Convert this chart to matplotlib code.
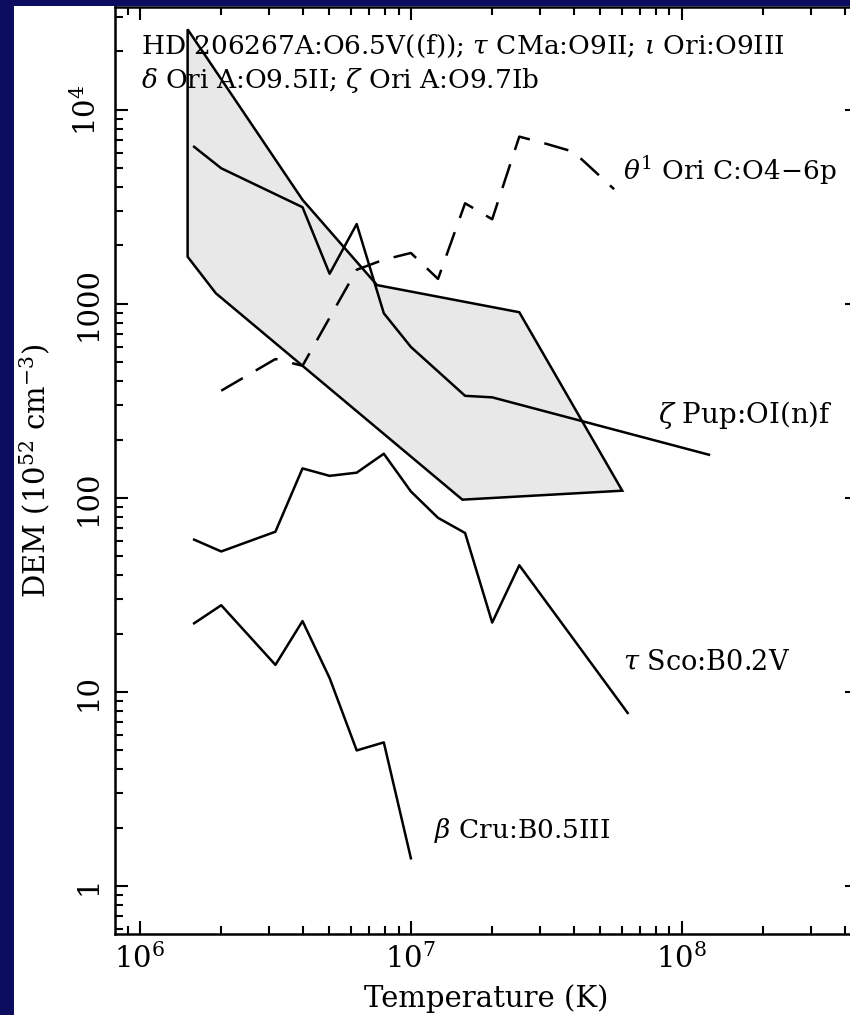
import numpy as np
from matplotlib import pyplot as plt
from matplotlib.patches import Rectangle
from matplotlib.ticker import LogLocator, NullFormatter, FixedLocator

plt.rcParams['font.family'] = 'DejaVu Serif'
plt.rcParams['mathtext.fontset'] = 'dejavuserif'
plt.rcParams['font.size'] = 19
plt.rcParams['xtick.direction'] = 'in'
plt.rcParams['ytick.direction'] = 'in'
plt.rcParams['axes.linewidth'] = 1.8

# log10 T and DEM (10^52 cm^-3)
logT_zpup = [6.2, 6.3, 6.6, 6.7, 6.8, 6.9, 7.0, 7.2, 7.3, 8.1]
dem_zpup = [6450, 5000, 3150, 1430, 2580, 895, 600, 336, 330, 167]

logT_tsco = [6.2, 6.3, 6.5, 6.6, 6.7, 6.8, 6.9, 7.0, 7.1, 7.2, 7.3, 7.4, 7.8]
dem_tsco = [61, 53, 67, 142, 130, 135, 169, 108, 79, 66, 22.8, 45, 7.8]

logT_bcru = [6.2, 6.3, 6.5, 6.6, 6.7, 6.8, 6.9, 7.0]
dem_bcru = [22.6, 28, 13.8, 23.2, 11.8, 5.0, 5.5, 1.39]

logT_th1 = [6.3, 6.5, 6.6, 6.8, 6.9, 7.0, 7.1, 7.2, 7.3, 7.4, 7.5, 7.6, 7.75]
dem_th1 = [357, 520, 480, 1500, 1690, 1830, 1345, 3300, 2730, 7280, 6680, 6080, 3900]

# envelope of the O9 stars (grey band)
logT_band = [6.176, 6.6, 6.875, 7.4, 7.78, 7.19, 6.28, 6.176]
dem_band = [26000, 3440, 1250, 906, 109, 98, 1135, 1750]

label_zpup = r'$\zeta$ Pup:OI(n)f'
label_tsco = r'$\tau$ Sco:B0.2V'
label_bcru = r'$\beta$ Cru:B0.5III'
label_th1 = r'$\theta^1$ Ori C:O4' + '\u2212' + '6p'
header1 = r'HD 206267A:O6.5V((f)); $\tau$ CMa:O9II; $\iota$ Ori:O9III'
header2 = r'$\delta$ Ori A:O9.5II; $\zeta$ Ori A:O9.7Ib'

fig = plt.figure(figsize=(8.5, 10.15), dpi=100)
fig.patch.set_facecolor('#0c0c60')
fig.add_artist(Rectangle((14 / 850, 0), 1, 1 - 6 / 1015, transform=fig.transFigure,
                         facecolor='white', edgecolor='none', zorder=-10))

ax = fig.add_axes([115 / 850, 81 / 1015, 743 / 850, 927 / 1015])
ax.set_xscale('log')
ax.set_yscale('log')

lw = 1.8
ax.fill(10 ** np.array(logT_band), dem_band, facecolor='#e8e8e8', edgecolor='black', lw=lw)
ax.plot(10 ** np.array(logT_zpup), dem_zpup, color='black', lw=lw)
ax.plot(10 ** np.array(logT_tsco), dem_tsco, color='black', lw=lw)
ax.plot(10 ** np.array(logT_bcru), dem_bcru, color='black', lw=lw)
ax.plot(10 ** np.array(logT_th1), dem_th1, color='black', lw=lw, linestyle=(0, (10, 6)))

ax.set_xlim(10 ** 5.908, 10 ** 8.65)
ax.set_ylim(10 ** -0.247, 10 ** 4.53)

ax.xaxis.set_major_locator(FixedLocator([1e6, 1e7, 1e8]))
ax.set_xticklabels([r'$10^6$', r'$10^7$', r'$10^8$'], fontsize=21)
ax.xaxis.set_minor_locator(LogLocator(base=10, subs=np.arange(2, 10), numticks=20))
ax.xaxis.set_minor_formatter(NullFormatter())
ax.yaxis.set_major_locator(FixedLocator([1, 10, 100, 1000, 1e4]))
ax.set_yticklabels(['1', '10', '100', '1000', r'$10^4$'], rotation=90, va='center', fontsize=21)
ax.yaxis.set_minor_locator(LogLocator(base=10, subs=np.arange(2, 10), numticks=20))
ax.yaxis.set_minor_formatter(NullFormatter())
ax.tick_params(which='both', top=True, right=True, width=1.5)
ax.tick_params(which='major', length=9.5)
ax.tick_params(which='minor', length=5.5)
ax.tick_params(axis='x', pad=7)
ax.tick_params(axis='y', pad=9)

ax.set_xlabel('Temperature (K)', fontsize=21, labelpad=7)
ax.set_ylabel('DEM (10$^{52}$ cm$^{-3}$)', fontsize=21, labelpad=14)

ax.text(0.035, 0.958, header1, transform=ax.transAxes, va='center')
ax.text(0.035, 0.921, header2, transform=ax.transAxes, va='center')
ax.text(0.684, 0.824, label_th1, transform=ax.transAxes, va='center', fontsize=19)
ax.text(0.731, 0.560, label_zpup, transform=ax.transAxes, va='center', fontsize=20)
ax.text(0.684, 0.293, label_tsco, transform=ax.transAxes, va='center', fontsize=19.5)
ax.text(0.429, 0.112, label_bcru, transform=ax.transAxes, va='center', fontsize=19)

fig.savefig('out.png', dpi=100, facecolor=fig.get_facecolor())
